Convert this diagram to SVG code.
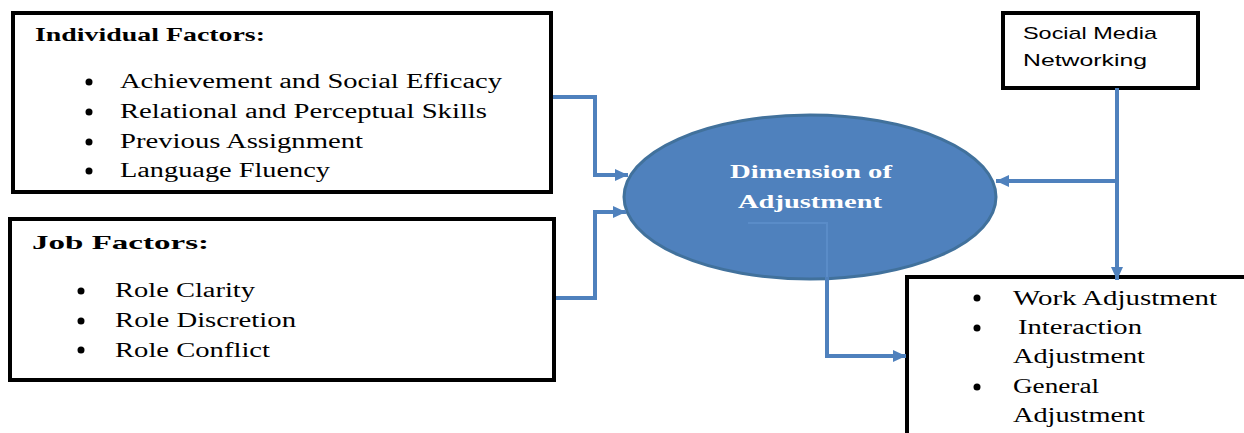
<svg xmlns="http://www.w3.org/2000/svg" width="1244" height="433" viewBox="0 0 1244 433">
<style>
.box{fill:#fff;stroke:#000;stroke-width:4}
.t{font-family:"Liberation Serif","Times New Roman",serif;font-size:20px;fill:#000}
.b{font-weight:bold;font-size:19px}
.s{font-family:"Liberation Sans",Arial,sans-serif;font-size:17px;fill:#000}
.w{font-family:"Liberation Serif","Times New Roman",serif;font-size:19px;font-weight:bold;fill:#fff}
.c{fill:none;stroke:#4F81BD;stroke-width:4;marker-end:url(#ah)}
.dot{fill:#000}
</style>
<defs>
<marker id="ah" markerUnits="userSpaceOnUse" markerWidth="14" markerHeight="14" viewBox="0 0 14 14" refX="13" refY="7" orient="auto">
<path d="M0,1 L13,7 L0,13 Z" fill="#4F81BD"/>
</marker>
</defs>
<g id="individual-factors">
<rect class="box" x="13" y="13" width="538" height="179"/>
<text class="t b" x="35" y="41" textLength="230" lengthAdjust="spacingAndGlyphs">Individual Factors:</text>
<circle class="dot" cx="89" cy="82" r="3.5"/>
<circle class="dot" cx="89" cy="112" r="3.5"/>
<circle class="dot" cx="89" cy="142" r="3.5"/>
<circle class="dot" cx="89" cy="171" r="3.5"/>
<text class="t" x="120" y="88" textLength="382" lengthAdjust="spacingAndGlyphs">Achievement and Social Efficacy</text>
<text class="t" x="120" y="118" textLength="367" lengthAdjust="spacingAndGlyphs">Relational and Perceptual Skills</text>
<text class="t" x="120" y="148" textLength="243" lengthAdjust="spacingAndGlyphs">Previous Assignment</text>
<text class="t" x="120" y="177" textLength="210" lengthAdjust="spacingAndGlyphs">Language Fluency</text>
</g>
<g id="job-factors">
<rect class="box" x="10" y="219" width="544" height="161"/>
<text class="t b" x="32" y="249" textLength="177" lengthAdjust="spacingAndGlyphs">Job Factors:</text>
<circle class="dot" cx="81" cy="291" r="3.5"/>
<circle class="dot" cx="81" cy="321" r="3.5"/>
<circle class="dot" cx="81" cy="350" r="3.5"/>
<text class="t" x="115" y="297" textLength="140" lengthAdjust="spacingAndGlyphs">Role Clarity</text>
<text class="t" x="115" y="327" textLength="181" lengthAdjust="spacingAndGlyphs">Role Discretion</text>
<text class="t" x="115" y="357" textLength="155" lengthAdjust="spacingAndGlyphs">Role Conflict</text>
</g>
<g id="social-media">
<rect class="box" x="1003" y="13" width="195" height="75"/>
<text class="s" x="1023" y="39" textLength="134" lengthAdjust="spacingAndGlyphs">Social Media</text>
<text class="s" x="1023" y="66" textLength="124" lengthAdjust="spacingAndGlyphs">Networking</text>
</g>
<g id="adjustment-outcomes">
<rect class="box" x="907" y="277" width="400" height="200"/>
<circle class="dot" cx="977" cy="298" r="3.5"/>
<circle class="dot" cx="977" cy="328" r="3.5"/>
<circle class="dot" cx="977" cy="387" r="3.5"/>
<text class="t" x="1013" y="305" textLength="204" lengthAdjust="spacingAndGlyphs">Work Adjustment</text>
<text class="t" x="1018" y="334" textLength="124" lengthAdjust="spacingAndGlyphs">Interaction</text>
<text class="t" x="1013" y="363" textLength="132" lengthAdjust="spacingAndGlyphs">Adjustment</text>
<text class="t" x="1013" y="393" textLength="86" lengthAdjust="spacingAndGlyphs">General</text>
<text class="t" x="1013" y="422" textLength="132" lengthAdjust="spacingAndGlyphs">Adjustment</text>
</g>
<g id="dimension">
<ellipse cx="810" cy="197" rx="186" ry="82" fill="#4F81BD" stroke="#41719C" stroke-width="3"/>
<text class="w" x="730" y="178" textLength="162" lengthAdjust="spacingAndGlyphs">Dimension of</text>
<text class="w" x="738" y="208" textLength="144" lengthAdjust="spacingAndGlyphs">Adjustment</text>
</g>
<g id="connectors">
<path class="c" d="M553,97 H595 V175 H628"/>
<path class="c" d="M556,298 H595 V212 H626"/>
<path class="c" d="M1117,88 V280"/>
<path class="c" d="M1117,181 H996"/>
<path d="M748,223 H827 V277" fill="none" stroke="#5A8CC8" stroke-width="2"/>
<path class="c" d="M827,277 V356 H906"/>
</g>
</svg>
